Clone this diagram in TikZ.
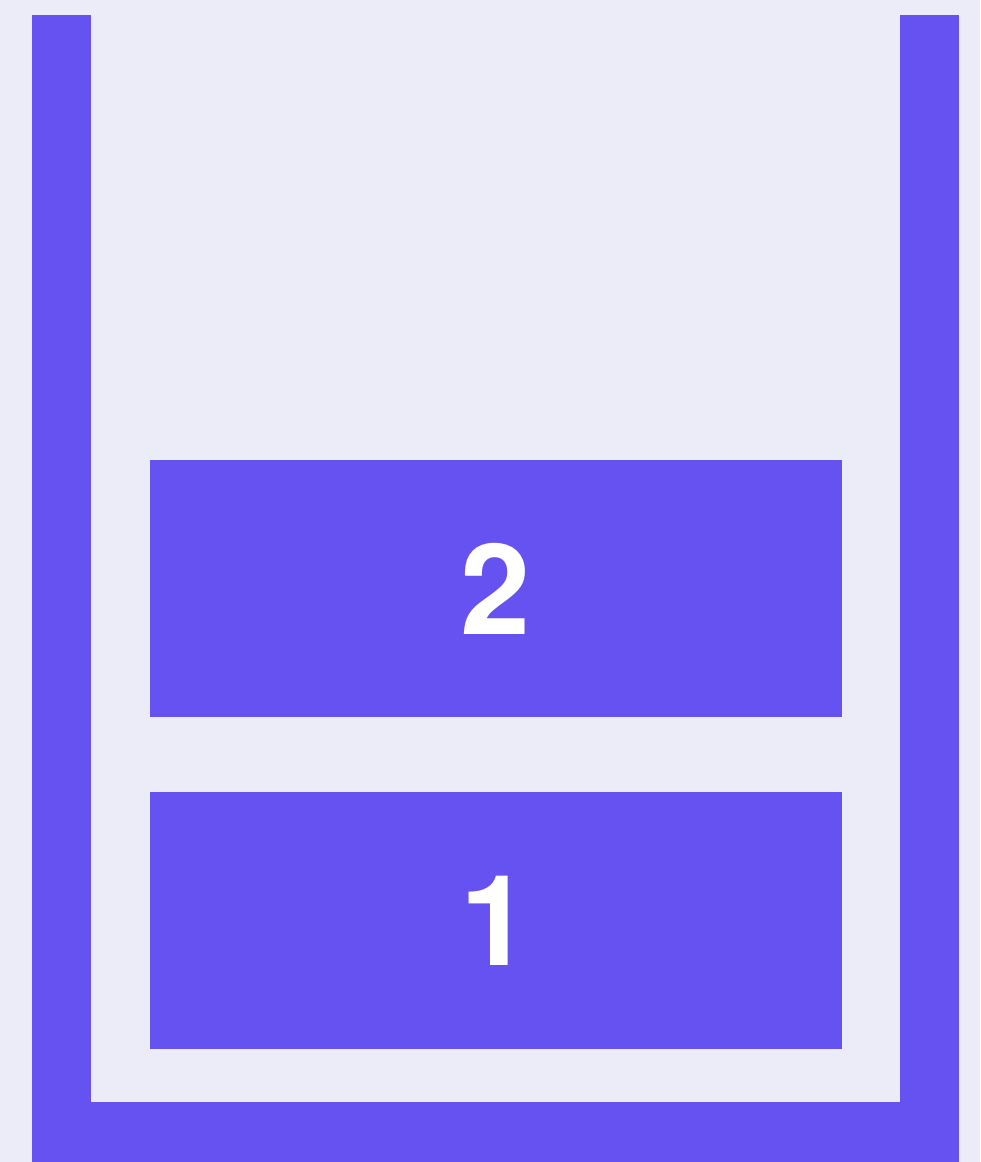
\documentclass[tikz,border=0pt]{standalone}
\usepackage{fontspec}
\setmainfont{TeX Gyre Heros}
\definecolor{stackbg}{RGB}{236,236,248}
\definecolor{stackpurple}{RGB}{102,82,240}
\begin{document}
\begin{tikzpicture}[
  x=1pt, y=-1pt,
  wall/.style={fill=stackpurple, draw=none},
  item/.style={fill=stackpurple, draw=none, text=white, minimum width=692pt, minimum height=257pt,
    inner sep=0pt, font=\fontsize{126}{126}\selectfont\bfseries}
]
\fill[stackbg] (0,0) rectangle (980,1162);
\useasboundingbox (0,0) rectangle (980,1162);
% container
\fill[wall] (32,15) rectangle (91,1162);
\fill[wall] (900,15) rectangle (959,1162);
\fill[wall] (32,1102) rectangle (959,1162);
% stacked items
\node[item] (second) at (496,588.5) {2};
\node[item] (first) at (496,920.5) {1};
\end{tikzpicture}
\end{document}
